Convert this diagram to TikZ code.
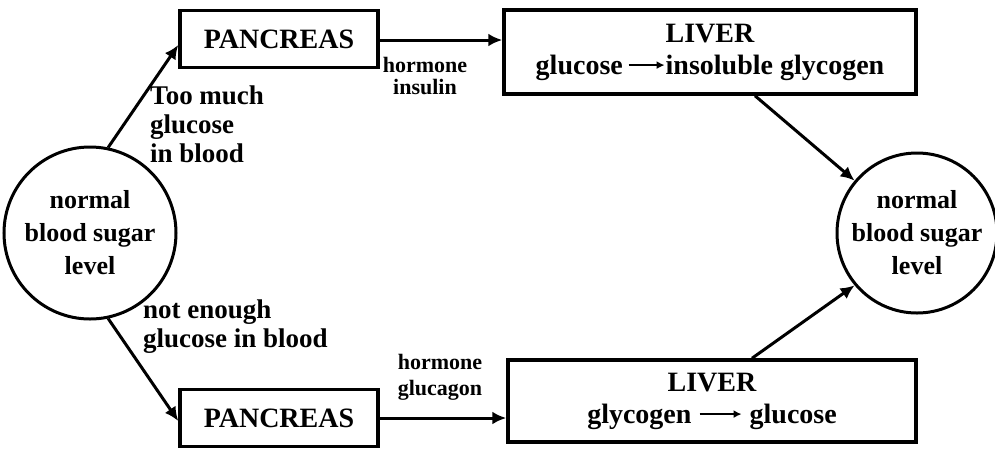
\documentclass[tikz,border=0pt]{standalone}
\usepackage{fontspec}
\setmainfont{Liberation Serif}
\usetikzlibrary{arrows.meta}
\newcommand\smallarr[1]{\tikz[baseline=-0.7ex]\draw[line width=2.2pt,-{Latex[length=8pt,width=8pt]}] (0,0)--(#1,0);}
\begin{document}
\begin{tikzpicture}[x=1pt,y=-1pt,
  txt/.style={font=\bfseries\fontsize{27}{29}\selectfont, inner sep=0pt},
  small/.style={font=\bfseries\fontsize{22}{22}\selectfont, inner sep=0pt},
  organ/.style={draw, line width=3.5pt, inner sep=0pt, font=\bfseries\fontsize{28}{32}\selectfont, align=center},
  level/.style={draw, circle, line width=3pt, inner sep=0pt, font=\bfseries\fontsize{26}{33}\selectfont, align=center},
  conn/.style={line width=3pt, -{Latex[length=14pt,width=13pt]}}]
\useasboundingbox (0,0) rectangle (995,448);
% nodes
\node[level, minimum size=172pt] (L) at (90,233) {normal\\blood sugar\\level};
\node[level, minimum size=160pt] (R) at (917,233) {normal\\blood sugar\\level};
\node[organ, minimum width=198pt, minimum height=57pt] (P1) at (279,39) {PANCREAS};
\node[organ, minimum width=412pt, minimum height=84pt] (V1) at (710,52) {LIVER\\glucose\,\smallarr{36pt}insoluble glycogen};
\node[organ, minimum width=198pt, minimum height=57pt] (P2) at (279,418) {PANCREAS};
\node[organ, minimum width=408pt, minimum height=82pt] (V2) at (712,401) {LIVER\\glycogen \smallarr{42pt} glucose};
% labels
\node[txt, align=left, anchor=north west] (t1) at (150,86) {Too much\\glucose\\in blood};
\node[txt, align=left, anchor=north west] (t2) at (143,300) {not enough\\glucose in blood};
\node[small, align=center] (h1) at (425,76) {hormone\\insulin};
\node[small, align=center, font=\bfseries\fontsize{22}{26}\selectfont] (h2) at (440,377) {hormone\\glucagon};
% connectors
\draw[conn] (L.78) -- (P1.west |- 0,45);
\draw[conn] (P1.east |- 0,40) -- (V1.west |- 0,40);
\draw[conn] (V1.south -| 755,0) -- (R.140);
\draw[conn] (L.-78) -- (P2.west |- 0,421);
\draw[conn] (P2.east |- 0,418) -- (V2.west |- 0,418);
\draw[conn] (V2.north -| 752,0) -- (R.-140);
\end{tikzpicture}
\end{document}
